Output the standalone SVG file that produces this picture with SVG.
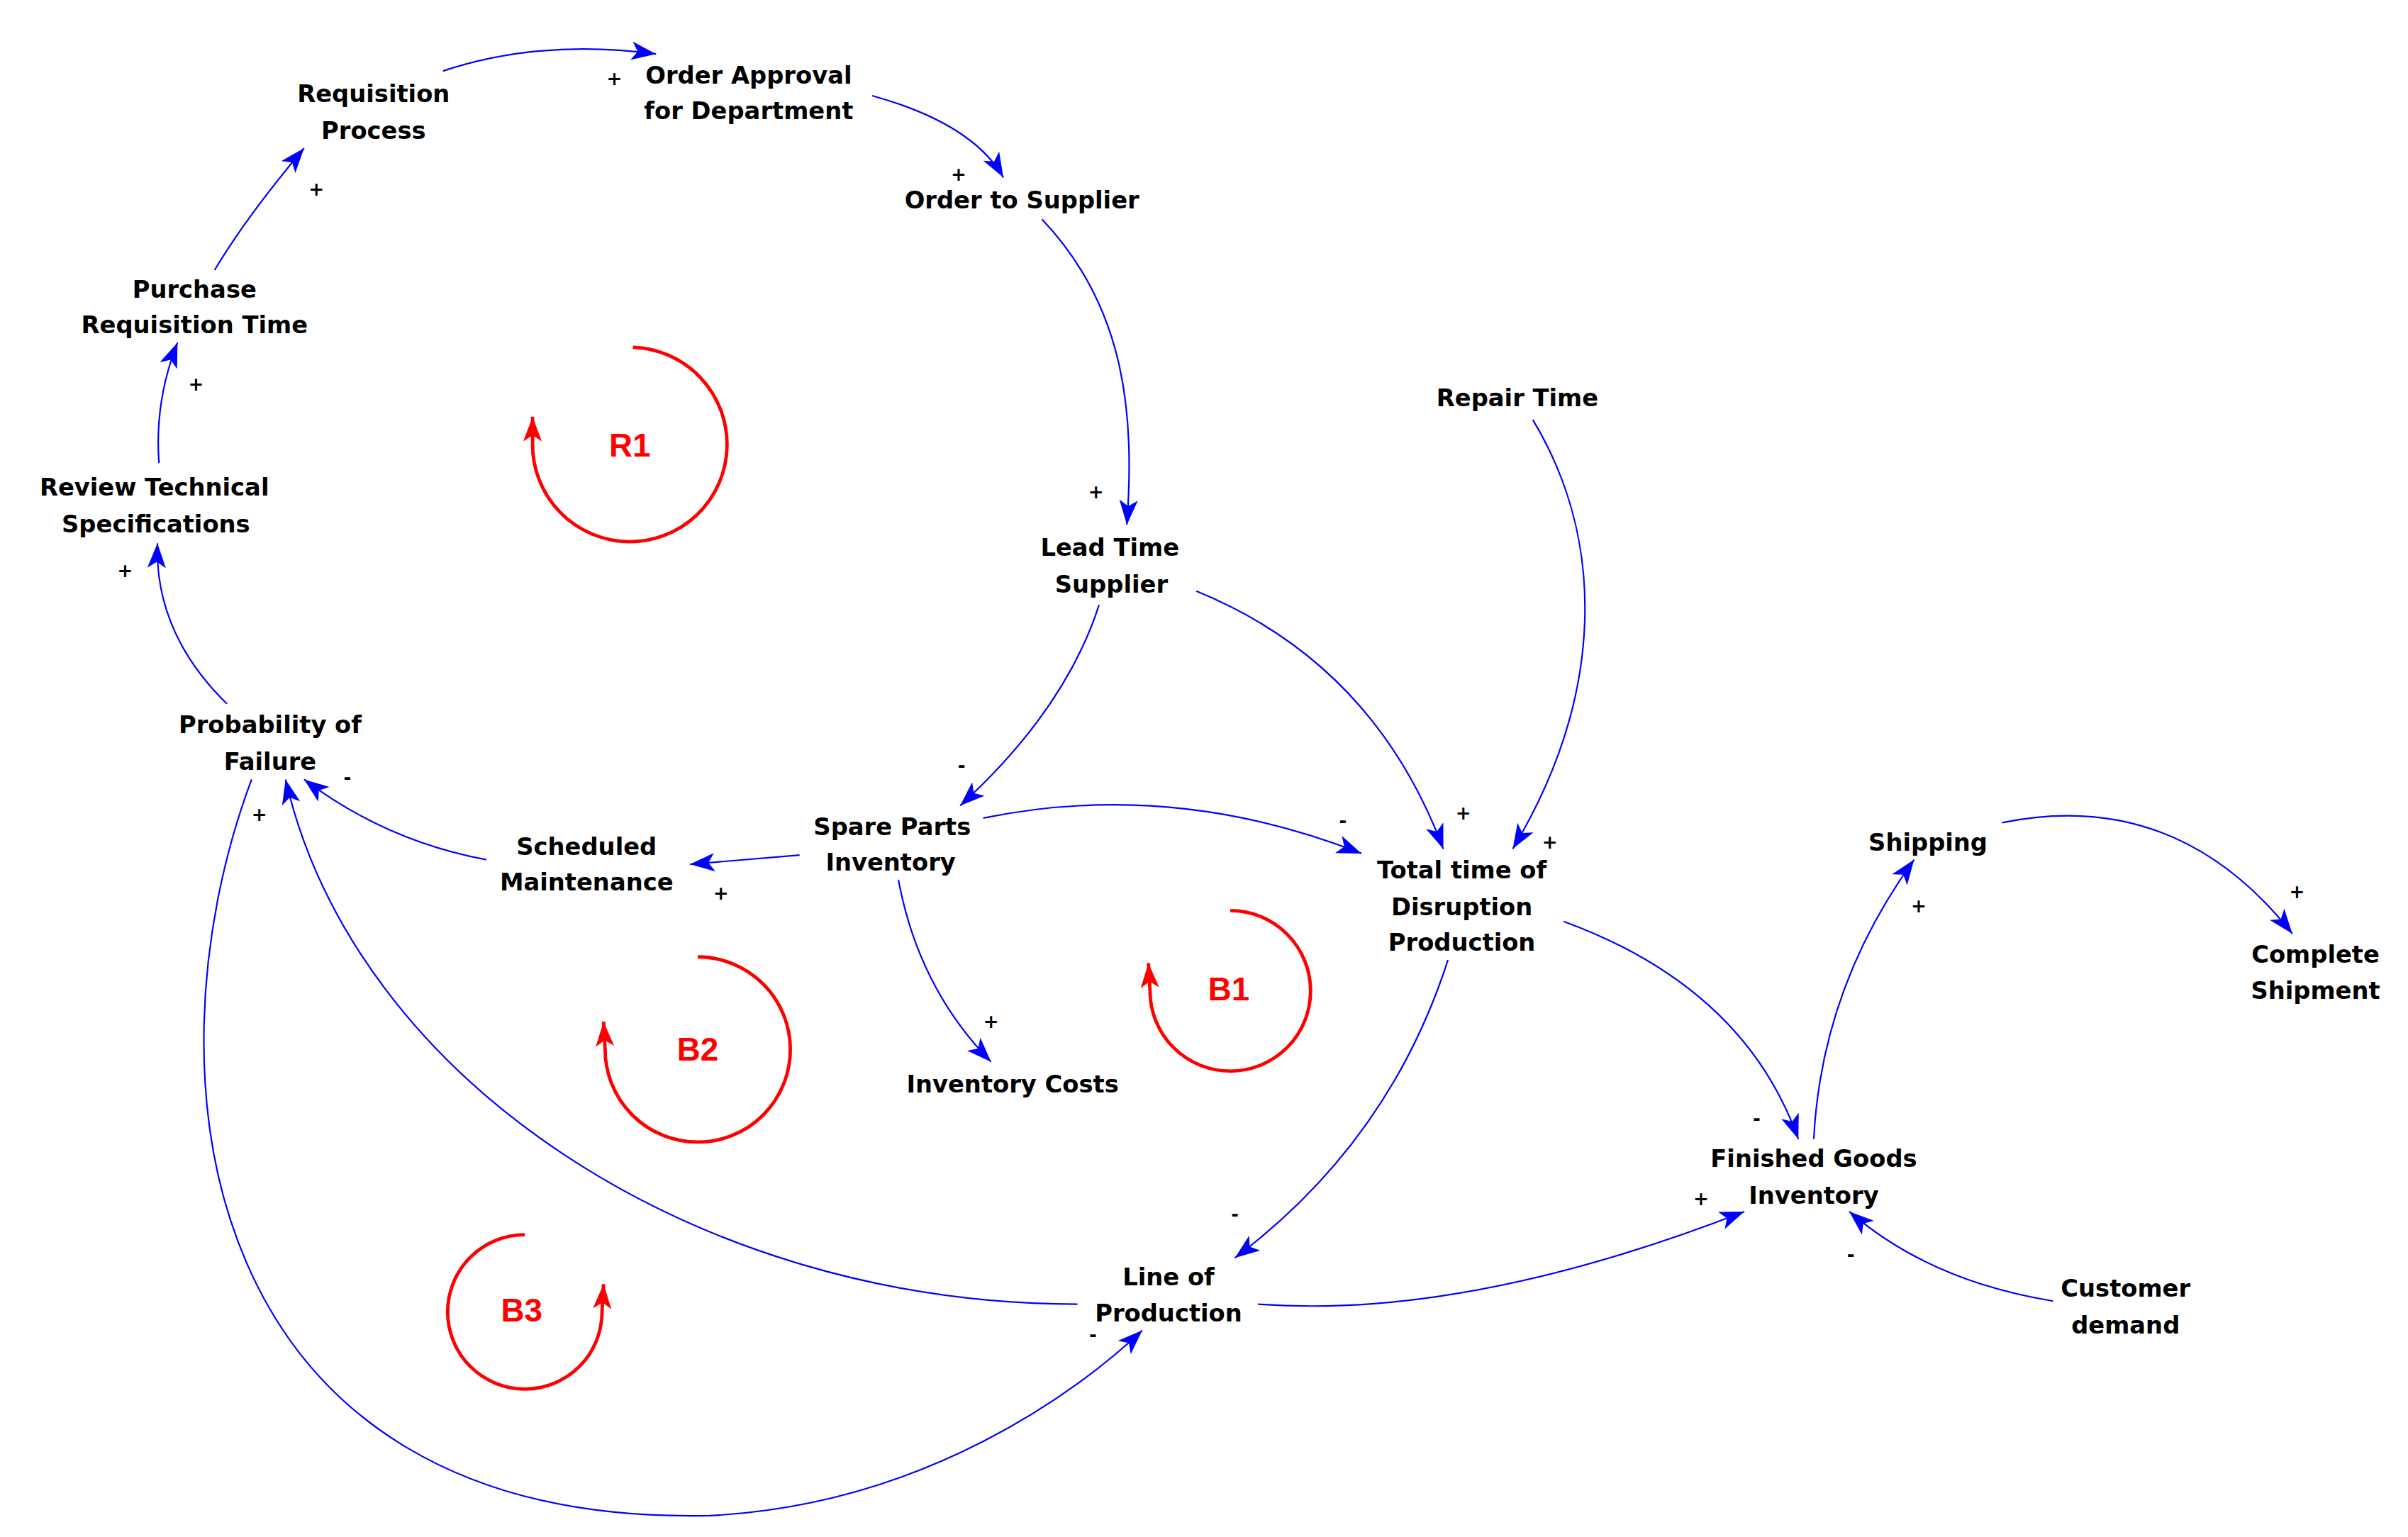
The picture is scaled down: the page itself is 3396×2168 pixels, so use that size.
<svg xmlns="http://www.w3.org/2000/svg" width="3396" height="2168" viewBox="0 0 3396 2168">
<style>
.t{font-family:"DejaVu Sans",Verdana,sans-serif;font-weight:bold;font-size:15.5px;fill:#000;text-anchor:middle}
.s{font-family:"DejaVu Sans",Verdana,sans-serif;font-weight:bold;font-size:12px;fill:#000;text-anchor:middle}
.l{font-family:"Liberation Sans",Arial,sans-serif;font-weight:bold;font-size:21px;fill:#f00;text-anchor:middle}
.c{fill:none;stroke:#00f;stroke-width:1;marker-end:url(#a)}
.r{fill:none;stroke:#f00;stroke-width:2.2;marker-end:url(#ra)}
</style>
<defs>
<marker id="a" markerUnits="userSpaceOnUse" markerWidth="18" markerHeight="12" refX="16" refY="6" orient="auto"><path d="M0,0 L16,6 L0,12 L4,6 Z" fill="#00f"/></marker>
<marker id="ra" markerUnits="userSpaceOnUse" markerWidth="18" markerHeight="12" refX="16" refY="6" orient="auto"><path d="M0,0 L16,6 L0,12 L4,6 Z" fill="#f00"/></marker>
</defs>
<rect width="3396" height="2168" fill="#fff"/>
<g transform="scale(2.177)">
<g id="connectors">
<path class="c" d="M287,46 Q350,25 425,35"/>
<path class="c" d="M565,62 Q630,80 650,115"/>
<path class="c" d="M675,142 C730,200 735,270 730,340"/>
<path class="c" d="M712,392 Q690,460 622,522"/>
<path class="c" d="M775,383 Q890,430 935,550"/>
<path class="c" d="M993,272 C1040,350 1040,450 980,550"/>
<path class="c" d="M637,530 Q760,505 882,553"/>
<path class="c" d="M518,554 L447,560"/>
<path class="c" d="M582,570 Q595,640 642,688"/>
<path class="c" d="M315,557 Q250,545 197,505"/>
<path class="c" d="M147,456 Q100,410 102,352"/>
<path class="c" d="M103,300 Q100,260 115,222"/>
<path class="c" d="M139,175 Q160,140 197,96"/>
<path class="c" d="M938,622 Q900,740 800,815"/>
<path class="c" d="M1013,597 Q1130,640 1165,738"/>
<path class="c" d="M815,845 Q950,855 1130,785"/>
<path class="c" d="M698,845 C450,845 230,700 185,505"/>
<path class="c" d="M163,505 C90,700 130,990 460,982 C600,975 700,900 740,862"/>
<path class="c" d="M1175,738 Q1180,640 1240,557"/>
<path class="c" d="M1297,533 Q1410,510 1485,605"/>
<path class="c" d="M1330,843 Q1250,830 1198,785"/>
<g class="s">
<text x="398" y="55">+</text><text x="621" y="117">+</text><text x="710" y="323">+</text>
<text x="623" y="500">-</text><text x="948" y="531">+</text><text x="1004" y="550">+</text>
<text x="870" y="536">-</text><text x="467" y="583">+</text><text x="642" y="666">+</text>
<text x="225" y="508">-</text><text x="81" y="374">+</text><text x="127" y="253">+</text>
<text x="205" y="127">+</text><text x="800" y="791">-</text><text x="1138" y="729">-</text>
<text x="1102" y="781">+</text><text x="168" y="532">+</text><text x="708" y="869">-</text>
<text x="1243" y="591">+</text><text x="1488" y="582">+</text><text x="1199" y="817">-</text>
</g>
</g>
<g id="loops">
<path class="r" d="M410,225 A63,63 0 1 1 345,287 L345,270"/><text class="l" x="408" y="296">R1</text>
<path class="r" d="M797,590 A52,52 0 1 1 745,642 L744,624"/><text class="l" x="796" y="648">B1</text>
<path class="r" d="M452,620 A60,60 0 1 1 392,680 L391,662"/><text class="l" x="452" y="687">B2</text>
<path class="r" d="M340,800 A50,50 0 1 0 390,850 L391,832"/><text class="l" x="338" y="856">B3</text>
</g>
<g id="n1"><text class="t" x="242" y="66">Requisition</text><text class="t" x="242" y="90">Process</text></g>
<g id="n2"><text class="t" x="485" y="54">Order Approval</text><text class="t" x="485" y="77">for Department</text></g>
<g id="n3"><text class="t" x="662" y="135">Order to Supplier</text></g>
<g id="n4"><text class="t" x="126" y="193">Purchase</text><text class="t" x="126" y="216">Requisition Time</text></g>
<g id="n5"><text class="t" x="100" y="321">Review Technical</text><text class="t" x="101" y="345">Specifications</text></g>
<g id="n6"><text class="t" x="983" y="263">Repair Time</text></g>
<g id="n7"><text class="t" x="719" y="360">Lead Time</text><text class="t" x="720" y="384">Supplier</text></g>
<g id="n8"><text class="t" x="175" y="475">Probability of</text><text class="t" x="175" y="499">Failure</text></g>
<g id="n9"><text class="t" x="578" y="541">Spare Parts</text><text class="t" x="577" y="564">Inventory</text></g>
<g id="n10"><text class="t" x="380" y="554">Scheduled</text><text class="t" x="380" y="577">Maintenance</text></g>
<g id="n11"><text class="t" x="947" y="569">Total time of</text><text class="t" x="947" y="593">Disruption</text><text class="t" x="947" y="616">Production</text></g>
<g id="n12"><text class="t" x="1249" y="551">Shipping</text></g>
<g id="n13"><text class="t" x="1500" y="624">Complete</text><text class="t" x="1500" y="647">Shipment</text></g>
<g id="n14"><text class="t" x="656" y="708">Inventory Costs</text></g>
<g id="n15"><text class="t" x="1175" y="756">Finished Goods</text><text class="t" x="1175" y="780">Inventory</text></g>
<g id="n16"><text class="t" x="757" y="833">Line of</text><text class="t" x="757" y="856">Production</text></g>
<g id="n17"><text class="t" x="1377" y="840">Customer</text><text class="t" x="1377" y="864">demand</text></g>
</g>
</svg>
